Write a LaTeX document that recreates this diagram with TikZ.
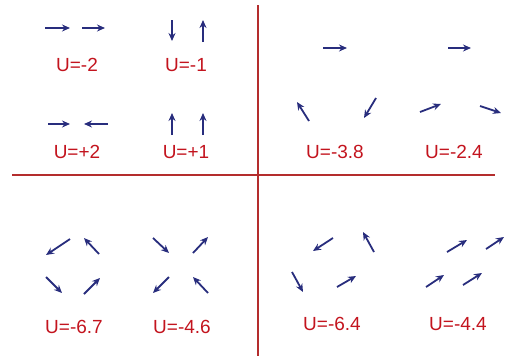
\documentclass[tikz,border=0pt]{standalone}
\usepackage{fontspec}
\setmainfont{Liberation Sans}
\usetikzlibrary{arrows.meta}
\definecolor{axisred}{RGB}{180,45,45}
\definecolor{labelred}{RGB}{195,20,30}
\definecolor{spinblue}{RGB}{40,45,125}
\tikzset{
  spin/.style={draw=spinblue, line width=1.8pt, -{Stealth[length=8pt,width=7pt]}},
  axis/.style={draw=axisred, line width=1.8pt},
  energy/.style={text=labelred, font=\fontsize{19}{21}\selectfont, inner sep=0pt, anchor=center}
}
\begin{document}
\begin{tikzpicture}[x=1pt,y=-1pt]
\useasboundingbox (0,0) rectangle (506,356);
% axes
\coordinate (vtop) at (258,5);
\coordinate (vbot) at (258,356);
\coordinate (hl) at (12,175);
\coordinate (hr) at (495,175);
\draw[axis] (vtop) -- (vbot);
\draw[axis] (hl) -- (hr);
% top-left
\draw[spin] (45,28) -- (70,28);
\draw[spin] (82,28) -- (105,28);
\node[energy] (u1) at (77,65) {U=-2};
\draw[spin] (172,20) -- (172,41);
\draw[spin] (203,42) -- (203,20);
\node[energy] (u2) at (186,65) {U=-1};
\draw[spin] (48,124) -- (70,124);
\draw[spin] (108,124) -- (84,124);
\node[energy] (u3) at (77,152) {U=+2};
\draw[spin] (172,135) -- (172,113);
\draw[spin] (203,135) -- (203,113);
\node[energy] (u4) at (186,152) {U=+1};
% top-right
\draw[spin] (323,48) -- (347,48);
\draw[spin] (309,121) -- (297,102);
\draw[spin] (376,98) -- (364,118);
\node[energy] (u5) at (335,152) {U=-3.8};
\draw[spin] (448,48) -- (471,48);
\draw[spin] (420,112) -- (441,104);
\draw[spin] (480,106) -- (501,113);
\node[energy] (u6) at (454,152) {U=-2.4};
% bottom-left
\draw[spin] (70,239) -- (46,255);
\draw[spin] (99,254) -- (84,238);
\draw[spin] (46,277) -- (62,293);
\draw[spin] (84,294) -- (100,278);
\node[energy] (u7) at (74,327) {U=-6.7};
\draw[spin] (153,238) -- (169,253);
\draw[spin] (193,253) -- (208,237);
\draw[spin] (169,277) -- (153,293);
\draw[spin] (208,293) -- (193,277);
\node[energy] (u8) at (182,327) {U=-4.6};
% bottom-right
\draw[spin] (333,238) -- (313,251);
\draw[spin] (374,252) -- (363,232);
\draw[spin] (292,272) -- (303,292);
\draw[spin] (337,287) -- (356,276);
\node[energy] (u9) at (332,324) {U=-6.4};
\draw[spin] (447,252) -- (467,240);
\draw[spin] (486,249) -- (504,237);
\draw[spin] (426,287) -- (444,275);
\draw[spin] (463,285) -- (482,273);
\node[energy] (u10) at (458,324) {U=-4.4};
\end{tikzpicture}
\end{document}
